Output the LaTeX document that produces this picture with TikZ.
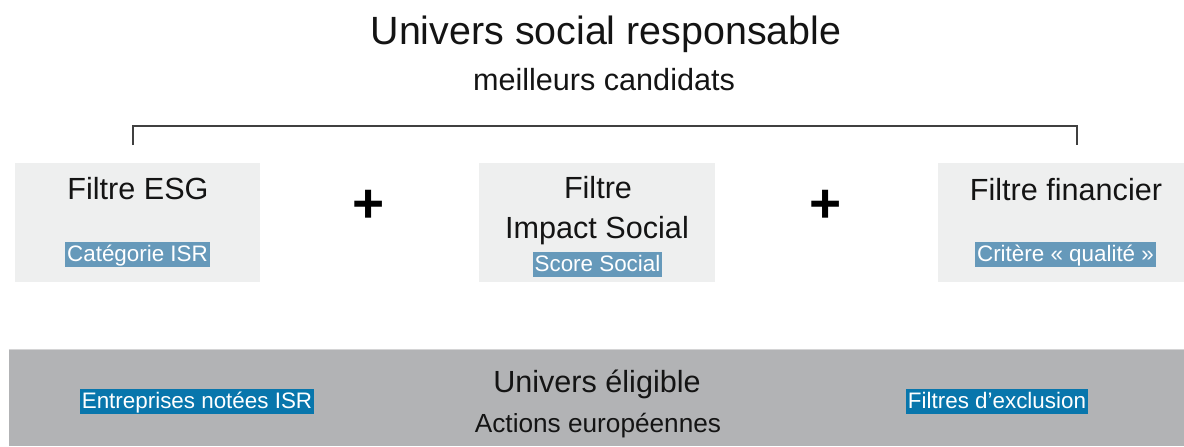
\documentclass[tikz,border=0pt]{standalone}
\usepackage{fontspec}
\setmainfont{Liberation Sans}
\usetikzlibrary{positioning}

\definecolor{fondfiltre}{RGB}{238,239,239}
\definecolor{fondsocle}{RGB}{178,179,181}
\definecolor{bordsocle}{RGB}{212,212,213}
\definecolor{bleuclair}{RGB}{102,153,186}
\definecolor{bleufonce}{RGB}{8,118,172}
\definecolor{trait}{RGB}{64,64,64}
\definecolor{encre}{RGB}{20,20,20}

\begin{document}
\begin{tikzpicture}[
    x=0.5pt, y=-0.5pt,
    filtre/.style={rectangle, fill=fondfiltre, inner sep=0pt, minimum height=59.5pt},
    socle/.style={rectangle, fill=fondsocle, inner sep=0pt, minimum width=587.5pt, minimum height=48pt},
    titre/.style={anchor=base, inner sep=0pt, text=encre, font=\fontsize{15.3}{18}\selectfont},
    etiquette/.style={inner xsep=1pt, inner ysep=0pt, text height=9.8pt, text depth=2.7pt, text=white, font=\fontsize{11.2}{13}\selectfont},
    critere/.style={etiquette, fill=bleuclair},
    exclusion/.style={etiquette, fill=bleufonce},
    plus/.style={inner sep=0pt, text=black, font=\fontsize{27.5}{30}\bfseries},
    accolade/.style={draw=trait, line width=0.6pt}
  ]
  \useasboundingbox (0,0) rectangle (1184,446);

  % univers responsable
  \node[titre, font=\fontsize{19.7}{23}\selectfont] (univresp) at (606,44) {Univers social responsable};
  \node[titre] (candidats) at (604,90) {meilleurs candidats};

  \coordinate (accL) at (133,145);
  \coordinate (accR) at (1077,145);
  \draw[accolade] (accL) -- ++(0,-19) -| (accR);

  % les trois filtres
  \node[filtre, minimum width=122.5pt] (esg) at (137.5,222.5) {};
  \node[filtre, minimum width=118pt] (impact) at (597,222.5) {};
  \node[filtre, minimum width=123pt] (financier) at (1061,222.5) {};

  \node[titre] (esgtitre) at (138,199) {Filtre ESG};
  \node[critere] (categorie) at (137.5,254) {Catégorie ISR};

  \node[titre] (impacttitre) at (598,198) {Filtre};
  \node[titre] (impactsous) at (597,238) {Impact Social};
  \node[critere] (score) at (597.5,264) {Score Social};

  \node[titre] (fintitre) at (1066,200) {Filtre financier};
  \node[critere] (qualite) at (1065.5,254) {Critère « qualité »};

  \node[plus] (plusA) at (369,206) {+};
  \node[plus] (plusB) at (826,206) {+};

  % univers eligible
  \node[socle] (socle) at (596.5,398) {};
  \draw[bordsocle, line width=0.8pt] (socle.north west) -- (socle.north east);

  \node[titre] (eligible) at (597,392) {Univers éligible};
  \node[titre, font=\fontsize{13.1}{16}\selectfont] (actions) at (598,432) {Actions européennes};
  \node[exclusion] (notees) at (197,401.5) {Entreprises notées ISR};
  \node[exclusion] (exclus) at (997,401.5) {Filtres d’exclusion};
\end{tikzpicture}
\end{document}
